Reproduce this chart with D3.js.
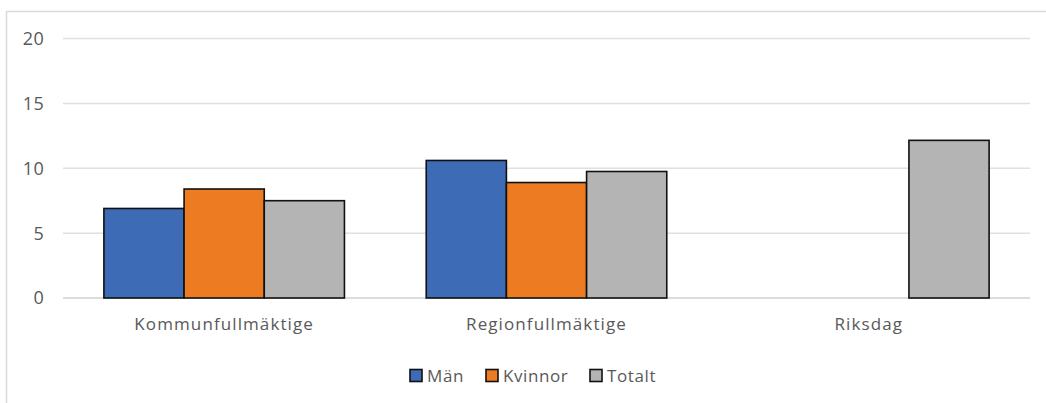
<!DOCTYPE html>
<html><head><meta charset="utf-8">
<script src="https://cdn.jsdelivr.net/npm/d3@7"></script>
<style>
html,body{margin:0;padding:0;background:#fff;}
text{font-family:"Open Sans","Noto Sans",sans-serif;fill:#595959;}
</style></head>
<body>
<svg id="chart" width="1046" height="403"></svg>
<script>
const categories = ["Kommunfullmäktige", "Regionfullmäktige", "Riksdag"];
const seriesNames = ["Män", "Kvinnor", "Totalt"];
const man = [6.9, 10.6, null];
const kvinnor = [8.4, 8.9, null];
const totalt = [7.5, 9.75, 12.15];
const yTicks = [0, 5, 10, 15, 20];
const colors = ["#3e6bb5", "#ed7b22", "#b4b4b4"];

(function () {
const seriesValues = [man, kvinnor, totalt];
const svg = d3.select("#chart");

// outer chart border
svg.append("path").attr("d", "M6.5,403 V11.5 H1046")
  .attr("fill", "none").attr("stroke", "#d9d9d9").attr("stroke-width", 1.5);

const pLeft = 63, pRight = 1030, pTop = 38.5, pBottom = 298;
const x0 = d3.scaleBand().domain(categories).range([pLeft, pRight]).paddingInner(0).paddingOuter(0);
const x1 = d3.scaleBand().domain(seriesNames).range([0, x0.bandwidth()]).paddingInner(0).paddingOuter(0.51);
const y = d3.scaleLinear().domain([0, 20]).range([pBottom, pTop]);

// gridlines
svg.append("g").selectAll("line").data(yTicks).join("line")
  .attr("x1", pLeft).attr("x2", pRight)
  .attr("y1", d => y(d)).attr("y2", d => y(d))
  .attr("stroke", d => d === 0 ? "#d0d0d0" : "#e0e0e0").attr("stroke-width", 1.5);

// y labels
svg.append("g").selectAll("text").data(yTicks).join("text")
  .attr("x", 44).attr("y", d => y(d)).attr("dy", "0.36em")
  .attr("text-anchor", "end").attr("font-size", 18).attr("letter-spacing", "0.3px").text(d => d);

// bars
const g = svg.append("g");
categories.forEach((c, i) => {
  seriesNames.forEach((s, j) => {
    const v = seriesValues[j][i];
    if (v == null) return;
    g.append("rect")
      .attr("x", x0(c) + x1(s))
      .attr("y", y(v))
      .attr("width", x1.bandwidth())
      .attr("height", y(0) - y(v))
      .attr("fill", colors[j])
      .attr("stroke", "#111").attr("stroke-width", 1.6);
  });
});

// category labels
svg.append("g").selectAll("text").data(categories).join("text")
  .attr("x", d => x0(d) + x0.bandwidth() / 2).attr("y", 330)
  .attr("text-anchor", "middle").attr("font-size", 17).attr("letter-spacing", "1.1px")
  .text(d => d);

// legend
const legendX = [410, 486, 590];
const lg = svg.append("g");
seriesNames.forEach((s, j) => {
  lg.append("rect").attr("x", legendX[j]).attr("y", 369.5).attr("width", 12).attr("height", 12)
    .attr("fill", colors[j]).attr("stroke", "#111").attr("stroke-width", 1.6);
  lg.append("text").attr("x", legendX[j] + 17).attr("y", 382)
    .attr("font-size", 17).attr("letter-spacing", "0.6px").text(s);
});
})();
</script>
</body></html>
